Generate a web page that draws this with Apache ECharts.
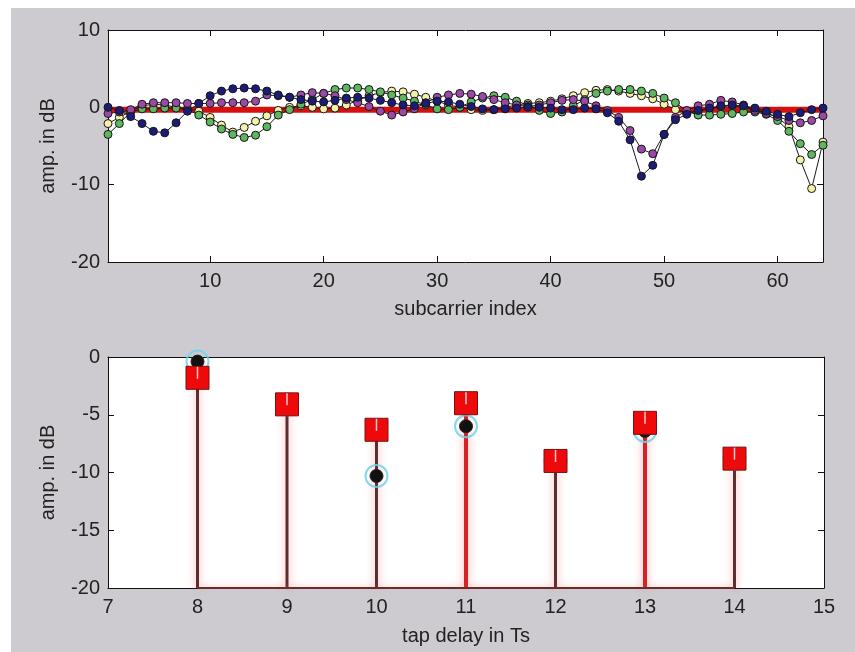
<!DOCTYPE html>
<html><head><meta charset="utf-8">
<script src="https://cdn.jsdelivr.net/npm/echarts@6/dist/echarts.min.js"></script>
<style>
html,body{margin:0;padding:0;background:#fff;}
#bg{position:absolute;left:11px;top:8px;width:844px;height:644px;background:#cdcbd0;}
#main{position:absolute;left:0;top:0;width:855px;height:652px;}
</style></head><body>
<div id="bg"></div><div id="main"></div>
<script>
// ---- top plot: channel amplitude per subcarrier (dB), subcarriers 1..64 ----
const navyDb = [0.0,-0.4,-1.2,-2.1,-3.1,-3.3,-2.0,-0.5,0.5,1.5,2.1,2.4,2.5,2.4,2.1,1.6,1.3,1.0,0.8,0.7,0.9,1.2,1.3,1.2,0.9,0.6,0.3,0.2,0.5,0.8,0.7,0.4,0.1,-0.2,-0.3,-0.2,-0.1,0.0,0.0,-0.1,-0.3,-0.3,-0.1,-0.2,-0.7,-1.8,-4.2,-8.9,-7.5,-3.5,-1.6,-0.9,-0.4,-0.1,0.2,0.3,0.2,-0.1,-0.5,-0.9,-1.2,-0.7,-0.3,-0.1];
const purpleDb = [-0.8,-0.6,-0.3,0.4,0.6,0.6,0.6,0.5,0.5,0.5,0.6,0.6,0.6,0.8,1.6,1.5,1.3,1.6,1.9,1.8,1.5,1.0,0.6,0.1,-0.5,-1.0,-0.6,-0.2,0.6,1.3,1.6,1.8,1.7,1.4,1.0,0.6,0.3,0.1,0.3,0.6,0.9,1.0,0.8,0.2,-0.4,-1.3,-3.0,-5.4,-6.0,-3.5,-1.3,-0.4,0.2,0.4,0.9,0.7,0.3,-0.4,-0.8,-1.2,-1.7,-2.0,-1.7,-1.1];
const greenDb = [-3.5,-2.1,-0.6,-0.2,-0.2,-0.1,-0.1,-0.3,-1.0,-1.9,-2.8,-3.5,-3.9,-3.6,-2.5,-1.0,-0.3,0.4,1.0,1.8,2.3,2.5,2.5,2.3,2.0,1.6,1.2,0.8,0.3,-0.2,-0.3,0.0,0.7,1.2,1.5,1.3,0.8,0.3,-0.4,-0.8,-0.6,0.2,1.0,1.8,2.1,2.3,2.3,2.1,1.8,1.2,0.6,-0.5,-1.0,-1.0,-0.9,-0.8,-0.6,-0.6,-0.9,-1.7,-3.1,-4.7,-6.1,-4.9];
const yellowDb = [-2.1,-1.3,-0.5,0.2,0.4,0.3,0.0,-0.2,-0.5,-1.3,-2.3,-3.2,-2.6,-1.8,-1.1,-0.4,0.0,0.2,0.0,-0.2,-0.1,0.3,0.9,1.5,1.9,2.1,2.0,1.7,1.3,0.8,0.3,0.0,-0.3,-0.4,-0.3,0.0,0.3,0.5,0.6,0.8,1.1,1.5,1.9,2.2,2.3,2.1,1.8,1.5,1.1,0.4,-0.3,-0.7,-0.5,-0.2,0.1,0.2,0.0,-0.3,-0.7,-1.3,-2.5,-6.8,-10.5,-4.5];
const redDb = [-0.3,-0.3,-0.3,-0.3,-0.3,-0.3,-0.3,-0.3,-0.3,-0.3,-0.3,-0.3,-0.3,-0.3,-0.3,-0.3,-0.3,-0.3,-0.3,-0.3,-0.3,-0.3,-0.3,-0.3,-0.3,-0.3,-0.3,-0.3,-0.3,-0.3,-0.3,-0.3,-0.3,-0.3,-0.3,-0.3,-0.3,-0.3,-0.3,-0.3,-0.3,-0.3,-0.3,-0.3,-0.3,-0.3,-0.3,-0.3,-0.3,-0.3,-0.3,-0.3,-0.3,-0.3,-0.3,-0.3,-0.3,-0.3,-0.3,-0.3,-0.3,-0.3,-0.3,-0.3];
const topXTicks = [10,20,30,40,50,60];

// ---- bottom plot: tap amplitudes (dB) ----
const taps = [8,9,10,11,12,13,14];
const trueTapDb = [-1.8,-4.1,-6.3,-4.0,-9.0,-5.7,-8.8];
const estTapDb = [-0.4,-4.1,-10.3,-6.0,-9.0,-6.4,-8.8];

// ---- styling ----
const FONT = '"Liberation Sans", Arial, sans-serif';
const TXT = '#222';
const redStemTaps = [11, 13];
const toXY = arr => arr.map((v, i) => [i + 1, v]);

function lineSeries(vals, fill, z) {
  return {
    type: 'line', xAxisIndex: 0, yAxisIndex: 0, data: toXY(vals), z: z,
    symbol: 'circle', symbolSize: 8, showSymbol: true,
    lineStyle: {color: '#1a1a1a', width: 1},
    itemStyle: {color: fill, borderColor: '#151515', borderWidth: 1, opacity: 1},
    emphasis: {disabled: true}, animation: false
  };
}

const baseX = {
  type: 'value', splitLine: {show: false},
  axisLine: {show: true, onZero: false, lineStyle: {color: '#111', width: 1}},
  axisLabel: {fontFamily: FONT, fontSize: 20, color: TXT},
  nameTextStyle: {fontFamily: FONT, fontSize: 20, color: TXT}
};

const option = {
  animation: false,
  backgroundColor: 'transparent',
  grid: [
    {left: 108, top: 30, width: 715, height: 232, show: true, backgroundColor: '#fff', borderWidth: 0},
    {left: 108, top: 357, width: 716, height: 231, show: true, backgroundColor: '#fff', borderWidth: 0}
  ],
  xAxis: [
    Object.assign({}, baseX, {gridIndex: 0, min: 1, max: 64, position: 'bottom',
      axisTick: {inside: true, length: 6, customValues: topXTicks, lineStyle: {color: '#111'}},
      axisLabel: {fontFamily: FONT, fontSize: 20, color: TXT, margin: 9, customValues: topXTicks},
      name: 'subcarrier index', nameLocation: 'middle', nameGap: 37}),
    Object.assign({}, baseX, {gridIndex: 0, min: 1, max: 64, position: 'top',
      axisTick: {inside: true, length: 6, customValues: topXTicks, lineStyle: {color: '#111'}},
      axisLabel: {show: false}}),
    Object.assign({}, baseX, {gridIndex: 1, min: 7, max: 15, interval: 1, position: 'bottom',
      axisTick: {show: false},
      axisLabel: {fontFamily: FONT, fontSize: 20, color: TXT, margin: 9},
      name: 'tap delay in Ts', nameLocation: 'middle', nameGap: 38}),
    Object.assign({}, baseX, {gridIndex: 1, min: 7, max: 15, interval: 1, position: 'top',
      axisTick: {show: false}, axisLabel: {show: false}})
  ],
  yAxis: [
    Object.assign({}, baseX, {gridIndex: 0, min: -20, max: 10, interval: 10, position: 'left',
      axisTick: {inside: true, length: 6, lineStyle: {color: '#111'}},
      axisLabel: {fontFamily: FONT, fontSize: 20, color: TXT, margin: 8},
      name: 'amp. in dB', nameLocation: 'middle', nameGap: 50}),
    Object.assign({}, baseX, {gridIndex: 0, min: -20, max: 10, interval: 10, position: 'right',
      axisTick: {inside: true, length: 6, lineStyle: {color: '#111'}}, axisLabel: {show: false}}),
    Object.assign({}, baseX, {gridIndex: 1, min: -20, max: 0, interval: 5, position: 'left',
      axisTick: {inside: true, length: 6, lineStyle: {color: '#111'}},
      axisLabel: {fontFamily: FONT, fontSize: 20, color: TXT, margin: 8},
      name: 'amp. in dB', nameLocation: 'middle', nameGap: 50}),
    Object.assign({}, baseX, {gridIndex: 1, min: -20, max: 0, interval: 5, position: 'right',
      axisTick: {inside: true, length: 6, lineStyle: {color: '#111'}}, axisLabel: {show: false}})
  ],
  series: [
    {type: 'line', xAxisIndex: 0, yAxisIndex: 0, data: toXY(redDb), z: 1, symbol: 'none',
      lineStyle: {color: '#d80f0f', width: 6}, emphasis: {disabled: true}},
    lineSeries(yellowDb, '#f4f2a6', 2),
    lineSeries(greenDb, '#5fb65f', 3),
    lineSeries(purpleDb, '#9a4aa6', 4),
    lineSeries(navyDb, '#1c1c78', 5),
    // bottom plot stems
    {type: 'custom', xAxisIndex: 2, yAxisIndex: 2, z: 2,
      data: taps.map((t, i) => [t, trueTapDb[i], estTapDb[i]]),
      renderItem: function (params, api) {
        const x = api.value(0);
        const top = Math.max(api.value(1), api.value(2));
        const p0 = api.coord([x, -20]);
        const p1 = api.coord([x, top]);
        const isRed = redStemTaps.indexOf(x) >= 0;
        return {type: 'line', shape: {x1: p0[0], y1: p0[1], x2: p1[0], y2: p1[1]},
          style: {stroke: isRed ? '#d62222' : '#5c2e30', lineWidth: isRed ? 4 : 3,
            shadowBlur: 8, shadowColor: 'rgba(255,80,80,0.55)'}};
      }},
    {type: 'line', xAxisIndex: 2, yAxisIndex: 2, z: 3, symbol: 'none',
      data: [[taps[0], -20], [taps[taps.length - 1], -20]],
      lineStyle: {color: '#6a2c2c', width: 2, shadowBlur: 6, shadowColor: 'rgba(255,80,80,0.5)'}},
    {type: 'scatter', xAxisIndex: 2, yAxisIndex: 2, z: 4, symbol: 'circle', symbolSize: 22,
      data: taps.map((t, i) => [t, estTapDb[i]]),
      itemStyle: {color: 'rgba(255,255,255,0)', borderColor: 'rgba(110,210,235,0.85)', borderWidth: 2, opacity: 1}},
    {type: 'scatter', xAxisIndex: 2, yAxisIndex: 2, z: 5, symbol: 'circle', symbolSize: 13,
      data: taps.map((t, i) => [t, estTapDb[i]]),
      itemStyle: {color: '#111', borderColor: '#222', borderWidth: 1, opacity: 1}},
    {type: 'scatter', xAxisIndex: 2, yAxisIndex: 2, z: 6, symbol: 'rect', symbolSize: 23,
      data: taps.map((t, i) => [t, trueTapDb[i]]),
      itemStyle: {color: '#ee0a0a', borderColor: '#7a1010', borderWidth: 1, opacity: 1}},
    // pale stem highlight inside each square (upper half)
    {type: 'custom', xAxisIndex: 2, yAxisIndex: 2, z: 7,
      data: taps.map((t, i) => [t, trueTapDb[i]]),
      renderItem: function (params, api) {
        const c = api.coord([api.value(0), api.value(1)]);
        return {type: 'line', shape: {x1: c[0], y1: c[1] - 11, x2: c[0], y2: c[1] + 1},
          style: {stroke: 'rgba(255,225,225,0.9)', lineWidth: 1.5}};
      }}
  ]
};
const chart = echarts.init(document.getElementById('main'), null, {renderer: 'canvas'});
chart.setOption(option);
</script></body></html>
